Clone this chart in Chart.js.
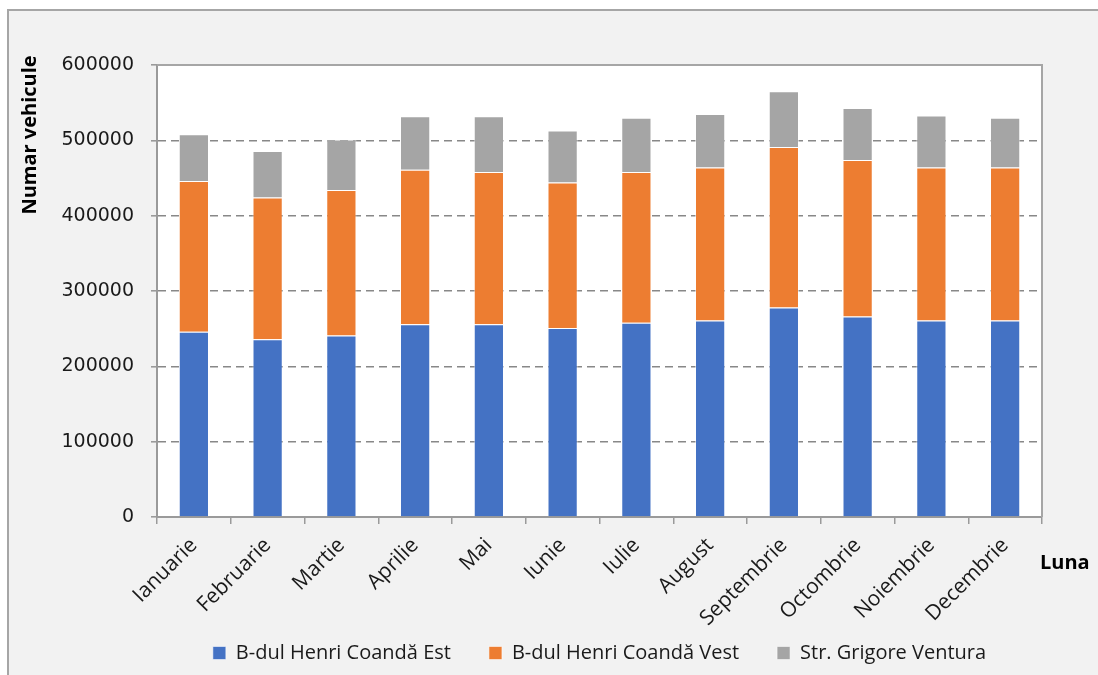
<!DOCTYPE html>
<html>
<head>
<meta charset="utf-8">
<script src="https://cdn.jsdelivr.net/npm/chart.js@4.4.0/dist/chart.umd.min.js"></script>
<style>
  html, body { margin: 0; padding: 0; background: #fff; overflow: hidden; }
</style>
</head>
<body>
<canvas id="traffic" width="1098" height="675"></canvas>
<script>
// monthly vehicle counts, stacked per street
const months = ['Ianuarie', 'Februarie', 'Martie', 'Aprilie', 'Mai', 'Iunie',
                'Iulie', 'August', 'Septembrie', 'Octombrie', 'Noiembrie', 'Decembrie'];
const coandaEst  = [246000, 236000, 241000, 256000, 256000, 251000, 258000, 261000, 278000, 266000, 261000, 261000];
const coandaVest = [200000, 188000, 193000, 205000, 202000, 193000, 200000, 203000, 213000, 208000, 203000, 203000];
const ventura    = [ 62000,  62000,  67000,  71000,  74000,  69000,  72000,  71000,  74000,  69000,  69000,  66000];
const yTicks = [0, 100000, 200000, 300000, 400000, 500000, 600000];

const BLUE   = '#4472c4';
const ORANGE = '#ed7d31';
const GREY   = '#a5a5a5';
const AXIS   = '#9a9a9a';
const FONT   = "'Open Sans', sans-serif";

// frame, plot background and the two axis titles
const decor = {
  id: 'decor',
  afterLayout(chart) {
    // let the rotated month names run into the legend band instead of being clipped
    chart.scales.x.bottom = chart.height;
  },
  beforeDraw(chart) {
    const { ctx, chartArea: a, width, height } = chart;
    ctx.save();
    ctx.fillStyle = '#fff';
    ctx.fillRect(0, 0, width, height);
    ctx.fillStyle = '#f2f2f2';
    ctx.fillRect(7, 9, width - 7, height - 9);
    ctx.strokeStyle = '#a6a6a6';
    ctx.lineWidth = 2;
    ctx.beginPath();
    ctx.moveTo(8, height);
    ctx.lineTo(8, 10);
    ctx.lineTo(width, 10);
    ctx.stroke();
    ctx.fillStyle = '#fff';
    ctx.fillRect(a.left, a.top, a.right - a.left, a.bottom - a.top);
    ctx.restore();
  },
  afterDraw(chart) {
    const { ctx, chartArea: a } = chart;
    ctx.save();
    ctx.strokeStyle = '#a6a6a6';
    ctx.lineWidth = 2;
    ctx.beginPath();
    ctx.moveTo(a.left, a.top);
    ctx.lineTo(a.right, a.top);
    ctx.lineTo(a.right, a.bottom);
    ctx.stroke();

    ctx.fillStyle = '#000';
    ctx.font = "bold 20px " + FONT;
    ctx.textBaseline = 'middle';
    ctx.textAlign = 'left';
    ctx.fillText('Luna', 1040, 563);

    ctx.translate(30, 135);
    ctx.rotate(-Math.PI / 2);
    ctx.textAlign = 'center';
    ctx.fillText('Numar vehicule', 0, 0);
    ctx.restore();
  }
};

new Chart(document.getElementById('traffic'), {
  type: 'bar',
  data: {
    labels: months,
    datasets: [
      { label: 'B-dul Henri Coandă Est',  data: coandaEst,  backgroundColor: BLUE },
      { label: 'B-dul Henri Coandă Vest', data: coandaVest, backgroundColor: ORANGE },
      { label: 'Str. Grigore Ventura',    data: ventura,    backgroundColor: GREY }
    ]
  },
  options: {
    responsive: false,
    animation: false,
    datasets: {
      bar: {
        categoryPercentage: 1,
        barPercentage: 0.41,
        borderWidth: 1,
        borderColor: 'rgba(255,255,255,0.55)'
      }
    },
    layout: { padding: { top: 65, right: 56, bottom: 2, left: 0 } },
    plugins: {
      legend: {
        position: 'bottom',
        fullSize: false,
        labels: {
          boxWidth: 13,
          boxHeight: 13,
          padding: 38,
          color: '#1a1a1a',
          font: { family: FONT, size: 20 }
        }
      },
      tooltip: { enabled: false }
    },
    scales: {
      x: {
        stacked: true,
        afterFit(scale) { scale.height = 88; },
        grid: { drawOnChartArea: false, drawTicks: true, tickLength: 7, color: AXIS, lineWidth: 1.5 },
        border: { color: AXIS, width: 2 },
        ticks: {
          autoSkip: false,
          minRotation: 45,
          maxRotation: 45,
          padding: 9,
          color: '#1a1a1a',
          font: { family: FONT, size: 21 }
        }
      },
      y: {
        stacked: true,
        min: 0,
        max: 600000,
        afterFit(scale) { scale.width = 157; },
        afterBuildTicks(scale) { scale.ticks = yTicks.map(v => ({ value: v })); },
        grid: {
          color: c => (c.tick && (c.tick.value === 0 || c.tick.value === 600000)) ? 'rgba(0,0,0,0)' : '#888',
          tickColor: AXIS,
          tickLength: 6,
          lineWidth: 1.6
        },
        border: { color: AXIS, width: 2, dash: [8, 5] },
        ticks: {
          padding: 17,
          color: '#1a1a1a',
          font: { family: "'DejaVu Sans', sans-serif", size: 19 },
          callback: v => String(v)
        }
      }
    }
  },
  plugins: [decor]
});
</script>
</body>
</html>
